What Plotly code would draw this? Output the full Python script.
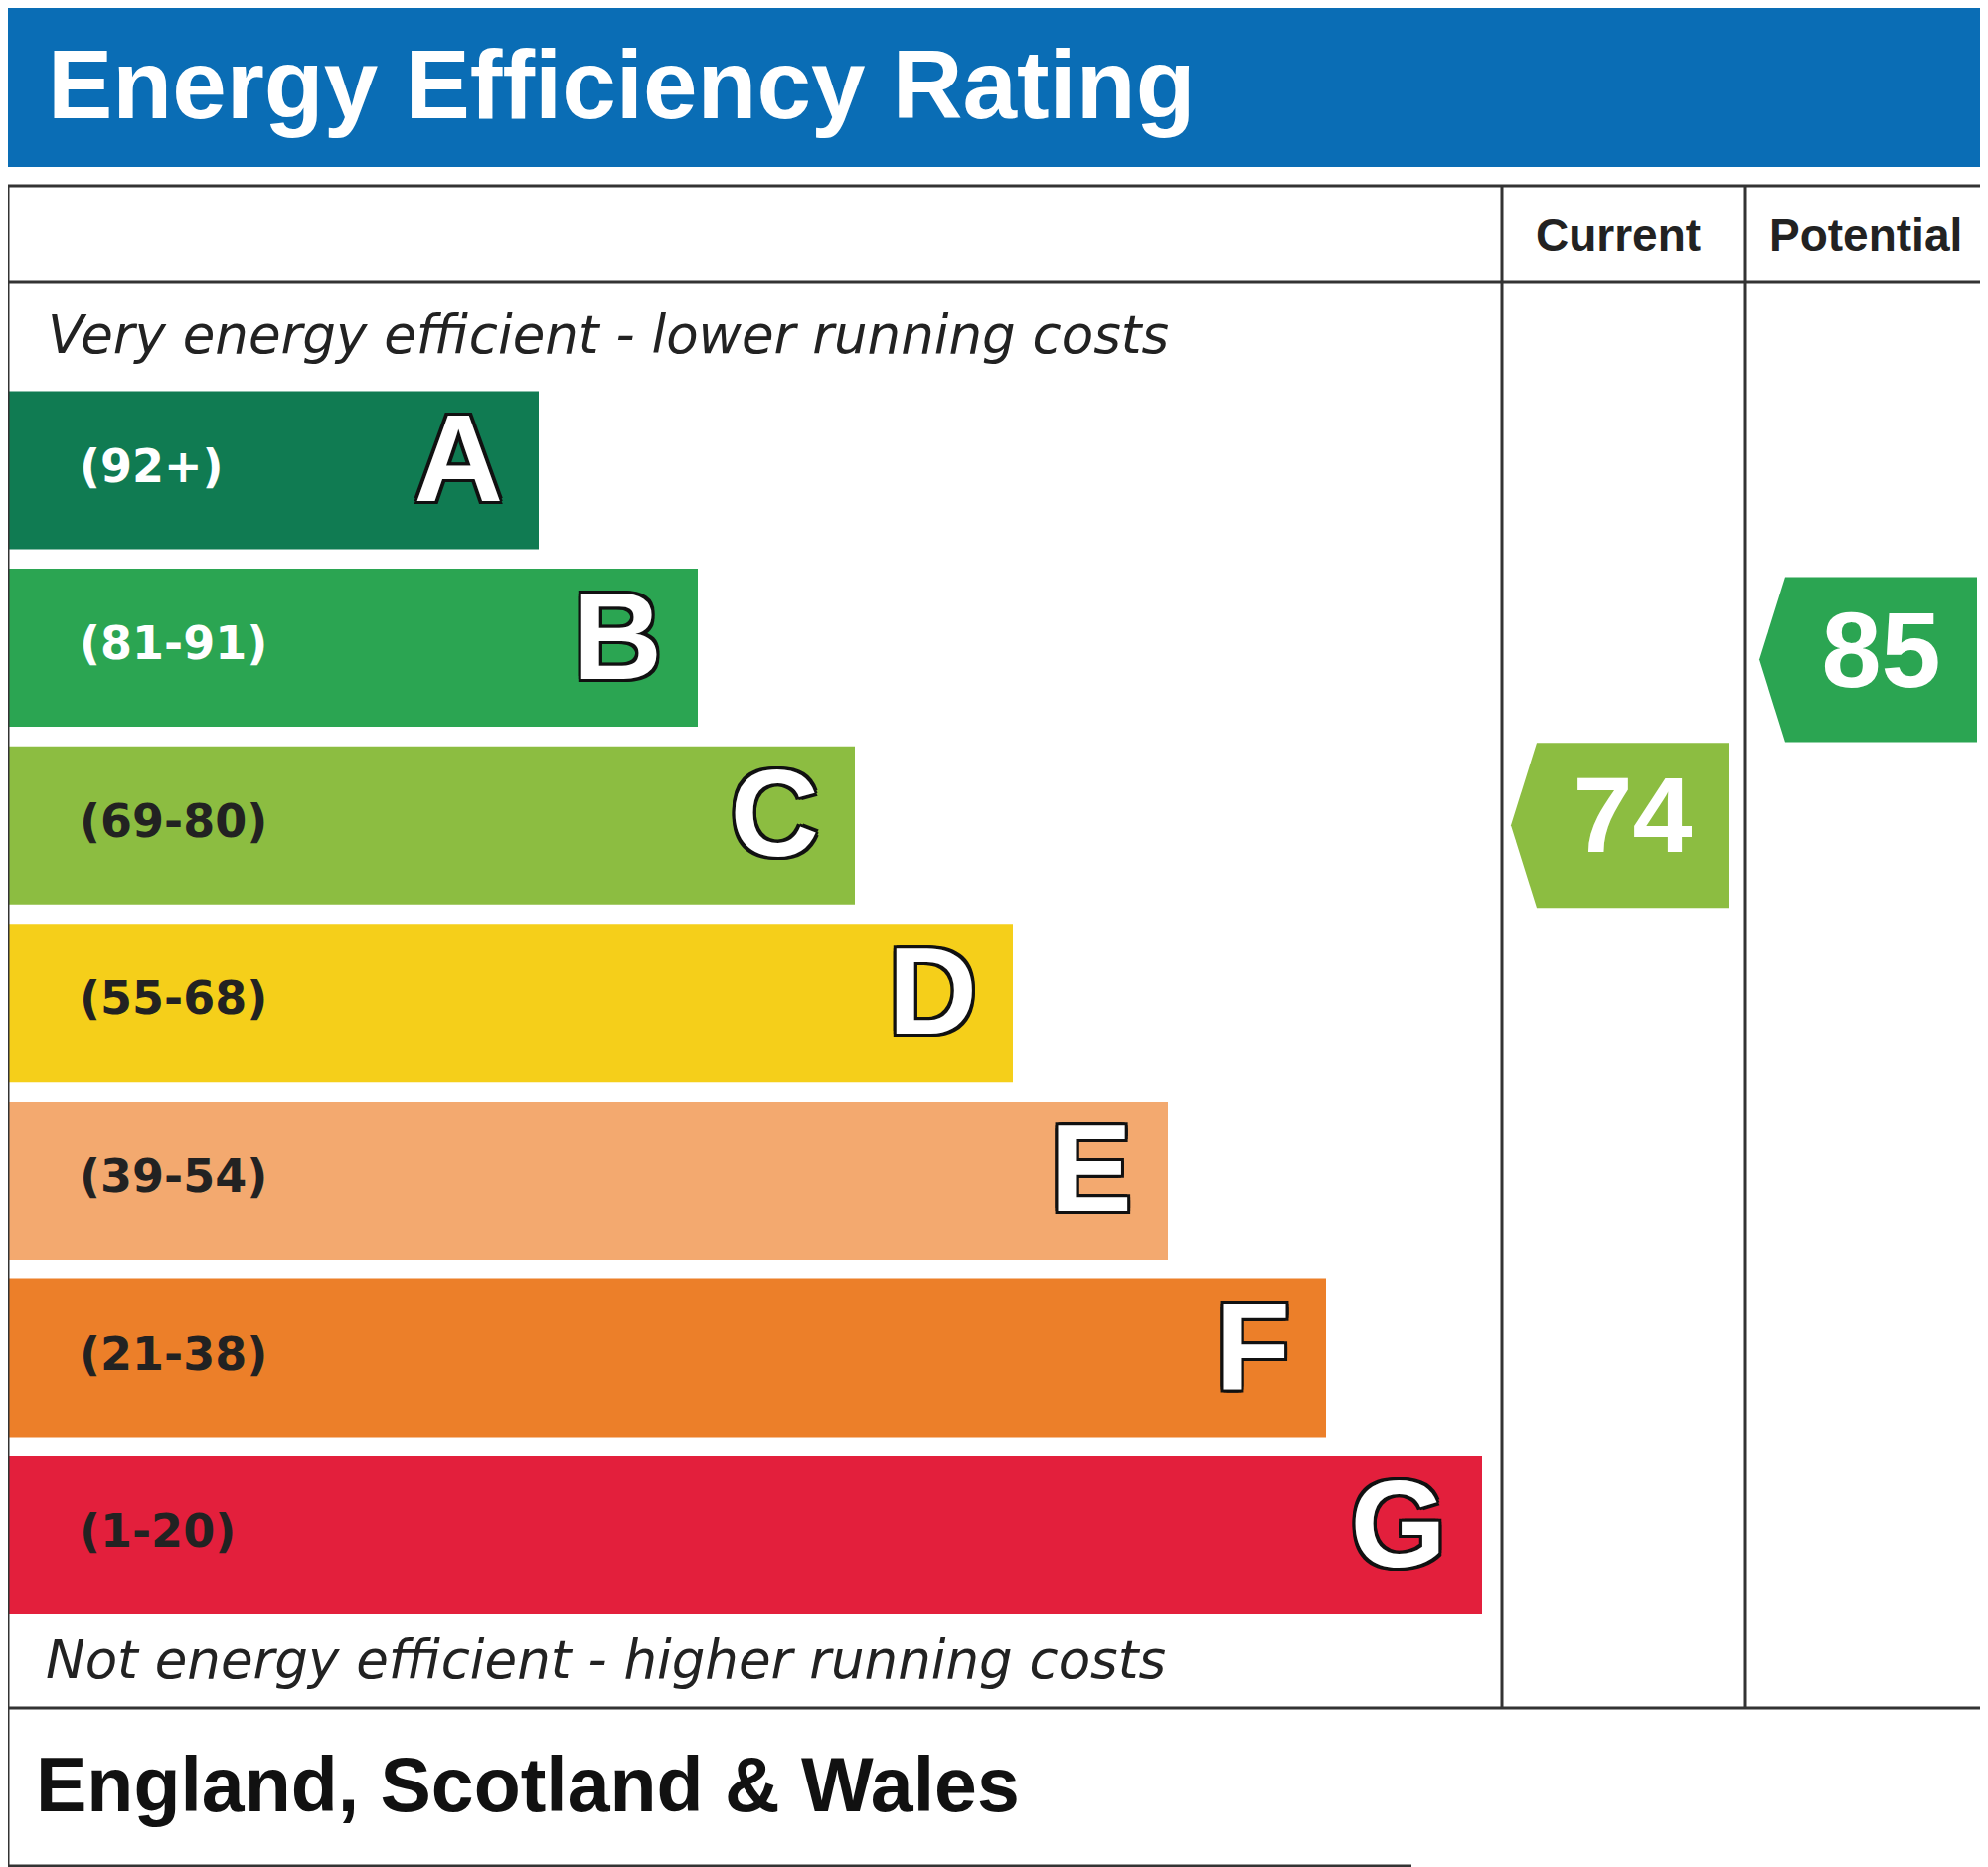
import plotly.graph_objects as go

bands = ["A", "B", "C", "D", "E", "F", "G"]
ranges = ["(92+)", "(81-91)", "(69-80)", "(55-68)", "(39-54)", "(21-38)", "(1-20)"]
lows = [92, 81, 69, 55, 39, 21, 1]
colors = ["#107b52", "#2ba552", "#8cbd41", "#f5cf1a", "#f3a96f", "#ec7f29", "#e31f3c"]
range_text_colors = ["white", "white", "#222", "#222", "#222", "#222", "#222"]
bar_widths = [534, 694, 852, 1011, 1167, 1326, 1483]
current = 74
potential = 85

W, H = 2000, 1878
y0, pitch, bh = 465, 178.6, 159
ys = [y0 + i * pitch for i in range(7)]

def band_of(v):
    for i, lo in enumerate(lows):
        if v >= lo:
            return i
    return 6

fig = go.Figure()
fig.add_trace(go.Bar(y=ys, x=bar_widths, base=0, orientation="h", width=bh,
                     marker=dict(color=colors, line=dict(width=0)), hoverinfo="skip"))
fig.add_trace(go.Scatter(x=[72] * 7, y=ys, mode="text", text=ranges, textposition="middle right",
                         textfont=dict(family="DejaVu Sans", size=46, color=range_text_colors, weight="bold")))
fig.add_trace(go.Scatter(x=[w - 36 for w in bar_widths], y=ys, mode="text", text=bands,
                         textposition="middle left",
                         textfont=dict(family="Liberation Sans", size=124, color="white", weight="bold",
                                       shadow="-3px -3px 0 #111, 3px -3px 0 #111, -3px 3px 0 #111, 3px 3px 0 #111, 0 3px 0 #111, 0 -3px 0 #111, 3px 0 0 #111, -3px 0 0 #111")))

def arrow(val, xl, xr, dy):
    i = band_of(val)
    yc = ys[i] + dy
    h = 83
    xs = [xl, xl + 26, xr, xr, xl + 26, xl]
    yy = [yc, yc - h, yc - h, yc + h, yc + h, yc]
    fig.add_trace(go.Scatter(x=xs, y=yy, fill="toself", fillcolor=colors[i], mode="lines",
                             line=dict(width=0, color=colors[i]), hoverinfo="skip"))
    fig.add_trace(go.Scatter(x=[(xl + 26 + xr) / 2], y=[yc], mode="text", text=[str(val)],
                             textfont=dict(family="Liberation Sans", size=108, color="white", weight="bold")))

arrow(current, 1512, 1731, 0)
arrow(potential, 1762, 1981, 12)

shapes = [
    dict(type="rect", x0=-10, x1=W + 10, y0=-10, y1=160, fillcolor="#0a6db5", line=dict(width=0), layer="below"),
    dict(type="rect", x0=0, x1=1990, y0=179, y1=1710, line=dict(color="#333", width=3)),
    dict(type="line", x0=0, x1=1990, y0=276, y1=276, line=dict(color="#333", width=3)),
    dict(type="line", x0=1503, x1=1503, y0=179, y1=1710, line=dict(color="#333", width=3)),
    dict(type="line", x0=1748, x1=1748, y0=179, y1=1710, line=dict(color="#333", width=3)),
    dict(type="line", x0=0, x1=1412, y0=1869, y1=1869, line=dict(color="#333", width=3)),
    dict(type="line", x0=0, x1=0, y0=1710, y1=1869, line=dict(color="#333", width=3)),
]
ann = [
    dict(x=38, y=77, text="Energy Efficiency Rating", xanchor="left", font=dict(family="Liberation Sans", size=98, color="white", weight="bold")),
    dict(x=1620, y=228, text="Current", font=dict(family="Liberation Sans", size=46, color="#222", weight="bold")),
    dict(x=1869, y=228, text="Potential", font=dict(family="Liberation Sans", size=46, color="#222", weight="bold")),
    dict(x=38, y=328, text="<i>Very energy efficient - lower running costs</i>", xanchor="left", font=dict(family="DejaVu Sans", size=53, color="#222")),
    dict(x=36, y=1661, text="<i>Not energy efficient - higher running costs</i>", xanchor="left", font=dict(family="DejaVu Sans", size=53, color="#222")),
    dict(x=26, y=1787, text="<b>England, Scotland &amp; Wales</b>", xanchor="left", font=dict(family="Liberation Sans", size=77, color="#111")),
]
for a in ann:
    a.update(showarrow=False, xref="x", yref="y", yanchor="middle")

fig.update_layout(width=W, height=H, margin=dict(l=0, r=0, t=0, b=0), showlegend=False,
                  paper_bgcolor="white", plot_bgcolor="white", shapes=shapes, annotations=ann,
                  xaxis=dict(range=[0, W], visible=False, fixedrange=True),
                  yaxis=dict(range=[H, 0], visible=False, fixedrange=True))
fig.write_html("out.html")
